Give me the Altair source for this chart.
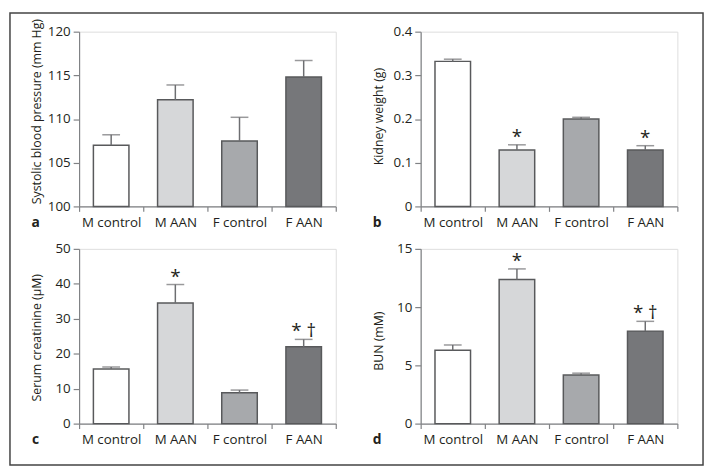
import altair as alt
import pandas as pd

categories = ["M control", "M AAN", "F control", "F AAN"]
fills = ["#ffffff", "#d6d7d9", "#a7a9ac", "#76777a"]

sbp_mean = [107.0, 112.2, 107.5, 114.8]
sbp_err = [1.2, 1.7, 2.7, 1.9]
kw_mean = [0.332, 0.129, 0.200, 0.129]
kw_err = [0.005, 0.012, 0.004, 0.010]
cr_mean = [15.6, 34.5, 8.8, 22.0]
cr_err = [0.6, 5.3, 0.8, 2.1]
bun_mean = [6.3, 12.38, 4.17, 7.94]
bun_err = [0.45, 0.9, 0.16, 0.84]

sbp_ticks = [100, 105, 110, 115, 120]
kw_ticks = [0, 0.1, 0.2, 0.3, 0.4]
cr_ticks = [0, 10, 20, 30, 40, 50]
bun_ticks = [0, 5, 10, 15]

kw_marks = ["", "*", "", "*"]
cr_marks = ["", "*", "", "* \u2020"]
bun_marks = ["", "*", "", "* \u2020"]

FONT = "Open Sans"
AXIS_COLOR = "#808285"
EDGE = "#58595b"


def panel(means, errs, marks, base, domain, tick_values, fmt, title, letter,
          title_y, frame=False):
    df = pd.DataFrame({
        "cat": categories,
        "mean": means,
        "top": [m + e for m, e in zip(means, errs)],
        "base": [base] * 4,
        "mark": marks,
    })
    x = alt.X("cat:N", sort=categories, title=None,
              scale=alt.Scale(paddingInner=0, paddingOuter=0),
              axis=alt.Axis(labelAngle=0, tickBand="extent", tickSize=5,
                            labelPadding=4, domainColor=AXIS_COLOR,
                            tickColor=AXIS_COLOR, labelFont=FONT,
                            labelFontSize=13.5, labelColor="#231f20",
                            labelOverlap=False,
                            domainWidth=1.2, tickWidth=1.2))
    yscale = alt.Scale(domain=domain, nice=False, zero=False)
    yaxis = alt.Axis(values=[float(v) for v in tick_values],
                     tickCount=len(tick_values), format=fmt, title=title,
                     tickSize=6, labelPadding=3, domainColor=AXIS_COLOR,
                     tickColor=AXIS_COLOR, labelFont=FONT, labelFontSize=13.5,
                     labelColor="#231f20", labelOverlap=False,
                     labelBound=False, labelFlush=False,
                     titleFont=FONT, titleFontSize=12.5,
                     titleFontWeight="normal", titleColor="#231f20",
                     titleX=-43, titleY=title_y, titleAngle=270,
                     titleBaseline="middle", titleAlign="center",
                     grid=False, domainWidth=1.2, tickWidth=1.2)
    basec = alt.Chart(df)
    bars = basec.mark_bar(width=36, stroke=EDGE, strokeWidth=1.5).encode(
        x=x,
        y=alt.Y("mean:Q", scale=yscale, axis=yaxis),
        y2="base:Q",
        color=alt.Color("cat:N", sort=categories, legend=None,
                        scale=alt.Scale(domain=categories, range=fills)),
    )
    rule = basec.mark_rule(color="#6d6e71", strokeWidth=1.5).encode(
        x=x, y=alt.Y("mean:Q", scale=yscale, axis=yaxis), y2="top:Q")
    cap = basec.mark_tick(color="#6d6e71", size=18, thickness=1.5,
                          orient="horizontal").encode(
        x=x, y=alt.Y("top:Q", scale=yscale, axis=yaxis))
    txt = basec.mark_text(font=FONT, fontSize=19, baseline="alphabetic",
                          dy=-2, color="#231f20").encode(
        x=x, y=alt.Y("top:Q", scale=yscale, axis=yaxis), text="mark:N"
    ).transform_filter("datum.mark != ''")
    one = alt.Chart(pd.DataFrame({"k": [0]}))
    lab = one.mark_text(text=letter, font=FONT, fontSize=14, fontWeight="bold",
                        align="center", baseline="alphabetic",
                        color="#231f20").encode(
        x=alt.value(-44), y=alt.value(198))
    layers = [bars, rule, cap, txt, lab]
    if frame:
        fr = one.mark_rect(fillOpacity=0, stroke="#444444",
                           strokeWidth=1.5).encode(
            x=alt.value(-70), x2=alt.value(632),
            y=alt.value(-19), y2=alt.value(439))
        layers.append(fr)
    return alt.layer(*layers).properties(width=260, height=177)


pa = panel(sbp_mean, sbp_err, ["", "", "", ""], 100, [100, 120],
           sbp_ticks, "d", "Systolic blood pressure (mm Hg)",
           "a", 80.5, frame=True)
pb = panel(kw_mean, kw_err, kw_marks, 0, [0, 0.4], kw_ticks,
           ".1~f", "Kidney weight (g)", "b", 85.5)
pc = panel(cr_mean, cr_err, cr_marks, 0, [0, 50], cr_ticks,
           "d", "Serum creatinine (\u03bcM)", "c", 89.5)
pd_ = panel(bun_mean, bun_err, bun_marks, 0, [0, 15], bun_ticks,
            "d", "BUN (mM)", "d", 93)

chart = alt.concat(pa, pb, pc, pd_, columns=2,
                   spacing={"row": 43, "column": 86}, bounds="flush").properties(
    padding=0
).configure_view(stroke=None).configure(background="white")

chart.save("out.html", embed_options={"renderer": "svg", "actions": False})
